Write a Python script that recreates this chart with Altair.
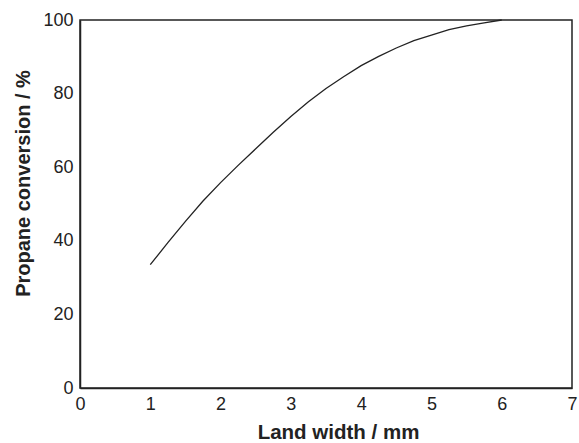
import altair as alt
import pandas as pd

land_width = [1.0, 1.25, 1.5, 1.75, 2.0, 2.25, 2.5, 2.75, 3.0, 3.25, 3.5,
              3.75, 4.0, 4.25, 4.5, 4.75, 5.0, 5.25, 5.5, 5.75, 6.0]
conversion = [33.5, 39.5, 45.3, 50.8, 55.8, 60.5, 65.0, 69.5, 73.8, 77.8, 81.4,
              84.6, 87.6, 90.1, 92.4, 94.4, 95.9, 97.4, 98.4, 99.2, 100.0]

df = pd.DataFrame({"x": land_width, "y": conversion})

chart = alt.Chart(df).mark_line(color="#222222", strokeWidth=1.3).encode(
    x=alt.X("x:Q", scale=alt.Scale(domain=[0, 7], nice=False),
            axis=alt.Axis(title="Land width / mm", values=[0, 1, 2, 3, 4, 5, 6, 7],
                          format="d", ticks=False, grid=False, labelPadding=7,
                          labelFlush=False, titlePadding=9, titleX=258,
                          titleAlign="center", titleFontSize=20.5,
                          domainColor="#222222", domainWidth=1.5)),
    y=alt.Y("y:Q", scale=alt.Scale(domain=[0, 100], nice=False),
            axis=alt.Axis(title="Propane conversion / %", values=[0, 20, 40, 60, 80, 100],
                          ticks=False, grid=False, labelPadding=7, labelFlush=False,
                          titleX=-57, titleY=163, titleAlign="center",
                          titleBaseline="middle", titleAngle=270,
                          domainColor="#222222", domainWidth=1.5)),
).properties(
    width=492, height=368,
    autosize=alt.AutoSizeParams(type="none"),
    padding={"left": 80, "top": 20, "right": 7, "bottom": 55},
).configure_view(
    stroke="#222222", strokeWidth=1.5
).configure_axis(
    labelFont="Liberation Sans", labelFontSize=18, labelColor="#222222",
    titleFont="Liberation Sans", titleFontSize=20, titleFontWeight="bold",
    titleColor="#222222",
)

chart.save("out.html", embed_options={"renderer": "svg", "actions": False})
